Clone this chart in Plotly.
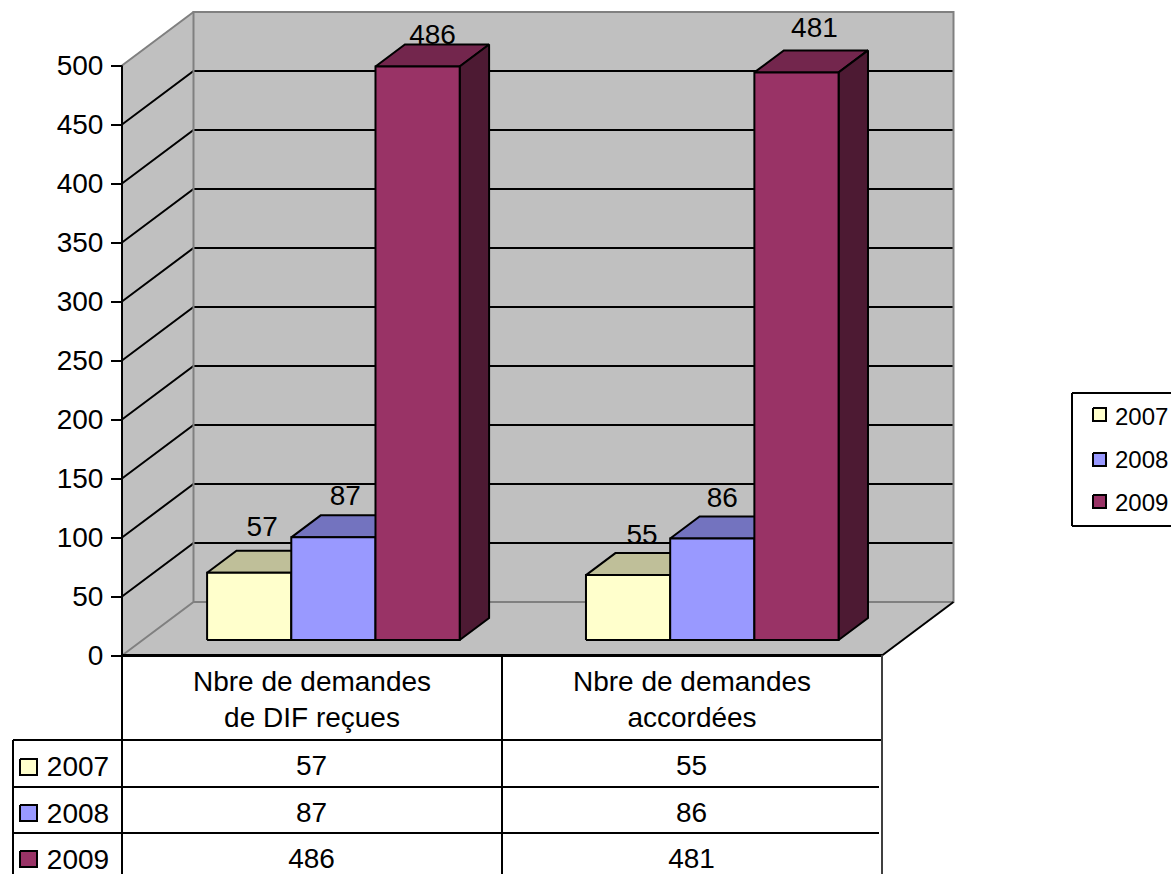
import plotly.graph_objects as go

categories = ["Nbre de demandes<br>de DIF reçues", "Nbre de demandes<br>accordées"]
series_names = ["2007", "2008", "2009"]
values_2007 = [57, 55]
values_2008 = [87, 86]
values_2009 = [486, 481]
y_ticks = [0, 50, 100, 150, 200, 250, 300, 350, 400, 450, 500]

all_values = [values_2007, values_2008, values_2009]
front = ["#FFFFCC", "#9999FF", "#993366"]
top = ["#BFBF99", "#7373BF", "#73264D"]
side = ["#BFBF99", "#7373BF", "#4D1A33"]

W, H = 1171, 874
X0, CAT_W = 122, 380
Y0, PX_PER_UNIT = 655.5, 1.18
DEPTH_X, DEPTH_Y = 71.5, 53.5
FONT = "Liberation Sans"
FS = 28
LEGEND_FS = 24
TEXT_SHIFT = 3
GREY = "#808080"
WALL = "#C0C0C0"


def vx(px):
    return (px - X0) / CAT_W


def vy(px):
    return (Y0 - px) / PX_PER_UNIT


def P(x, v, d=0.0):
    """Oblique projection: category x, value v, depth d in 0..1."""
    return x + d * DEPTH_X / CAT_W, v + d * DEPTH_Y / PX_PER_UNIT


fig = go.Figure()


def poly(points, fill=None, color="black", width=2):
    xs = [p[0] for p in points]
    ys = [p[1] for p in points]
    fig.add_trace(go.Scatter(
        x=xs, y=ys, mode="lines", hoverinfo="skip", showlegend=False,
        fill="toself" if fill else None, fillcolor=fill,
        line=dict(color=color, width=width, shape="linear"),
    ))


def pixel_line(p1, p2, color="black", width=2):
    poly([(vx(p1[0]), vy(p1[1])), (vx(p2[0]), vy(p2[1]))], color=color, width=width)


def label(px, py, text, anchor="middle center", size=FS):
    fig.add_trace(go.Scatter(
        x=[vx(px)], y=[vy(py + TEXT_SHIFT)], mode="text", text=[text], textposition=anchor,
        textfont=dict(family=FONT, size=size, color="black"),
        hoverinfo="skip", showlegend=False, cliponaxis=False,
    ))


# walls and floor
vmax = y_ticks[-1]
poly([P(0, 0), P(0, 0, 1), P(0, vmax, 1), P(0, vmax)], fill=WALL, color=WALL, width=1)
poly([P(0, 0, 1), P(2, 0, 1), P(2, vmax, 1), P(0, vmax, 1)], fill=WALL, color=WALL, width=1)
poly([P(0, 0), P(2, 0), P(2, 0, 1), P(0, 0, 1)], fill=WALL, color=WALL, width=1)

# gridlines
for t in y_ticks[1:-1]:
    poly([P(0, t), P(0, t, 1), P(2, t, 1)], width=2)

# wall edges
poly([P(0, 0), P(0, 0, 1), P(2, 0, 1), P(2, vmax, 1), P(0, vmax, 1), P(0, 0, 1)], color=GREY, width=2)
poly([P(0, vmax), P(0, vmax, 1)], color=GREY, width=2)
poly([P(2, 0, 1), P(2, 0)], width=2)
poly([P(0, 0), P(2, 0)], width=3)
poly([P(0, 0), P(0, vmax)], width=2)

# bars, painted left to right
BAR_W = 84.2 / CAT_W
GROUP_X = [0.1694, 1.1665]
D0, D1 = 15.5 / DEPTH_Y, 37.5 / DEPTH_Y
for g, gx in enumerate(GROUP_X):
    for s in range(3):
        v = all_values[s][g]
        a = gx + s * BAR_W
        b = a + BAR_W
        poly([P(a, v, D0), P(b, v, D0), P(b, v, D1), P(a, v, D1), P(a, v, D0)], fill=top[s])
        poly([P(b, 0, D0), P(b, 0, D1), P(b, v, D1), P(b, v, D0), P(b, 0, D0)], fill=side[s])
        poly([P(a, 0, D0), P(b, 0, D0), P(b, v, D0), P(a, v, D0), P(a, 0, D0)], fill=front[s])

# data labels: offset (px) from the centre of each bar's top edge
label_dx = [[13, 12, 15], [14, 10, 18]]
label_dy = [[-47, -42, -33], [-41, -42, -45]]
for g, gx in enumerate(GROUP_X):
    for s in range(3):
        v = all_values[s][g]
        cx, cy = P(gx + (s + 0.5) * BAR_W, v, D0)
        label(X0 + cx * CAT_W + label_dx[g][s], Y0 - cy * PX_PER_UNIT + label_dy[g][s], str(v))

# data table
ROWS = [740, 787, 833]
pixel_line((X0, 655), (X0, H), width=2)
pixel_line((502, 655), (502, H), width=2)
pixel_line((882, 655), (882, H), color="#404040", width=2)
pixel_line((13, 740), (13, H), width=2)
pixel_line((13, ROWS[0]), (881, ROWS[0]), width=2)
pixel_line((13, ROWS[1]), (879, ROWS[1]), width=2)
pixel_line((13, ROWS[2]), (879, ROWS[2]), width=2)
row_mid = [765, 812, 858]
swatch_top = [759, 805, 851]
for s in range(3):
    y = swatch_top[s]
    poly([(vx(20), vy(y)), (vx(37), vy(y)), (vx(37), vy(y + 16)), (vx(20), vy(y + 16)), (vx(20), vy(y))],
         fill=front[s], width=2)
    label(78, row_mid[s] + 1, series_names[s])
    for g in range(2):
        label(311.5 + 380 * g, row_mid[s], str(all_values[s][g]))

# legend
pixel_line((1072, 393), (W, 393))
pixel_line((1072, 526), (W, 526))
pixel_line((1072, 393), (1072, 526))
leg_top = [408, 453, 495]
leg_mid = [416, 459, 502]
for s in range(3):
    y = leg_top[s]
    poly([(vx(1093), vy(y)), (vx(1106), vy(y)), (vx(1106), vy(y + 13)), (vx(1093), vy(y + 13)), (vx(1093), vy(y))],
         fill=front[s], width=2)
    label(1115, leg_mid[s], series_names[s], anchor="middle right", size=LEGEND_FS)

fig.update_layout(
    width=W, height=H, margin=dict(l=0, r=0, t=0, b=0),
    paper_bgcolor="white", plot_bgcolor="white", showlegend=False,
    font=dict(family=FONT, size=FS, color="black"),
    xaxis=dict(
        range=[vx(0), vx(W)], anchor="free", position=(H - Y0) / H,
        tickmode="array", tickvals=[0.5, 1.5], ticktext=categories,
        showgrid=False, zeroline=False, showline=False, ticks="", ticklabelstandoff=6,
        tickfont=dict(family=FONT, size=FS, color="black"),
    ),
    yaxis=dict(
        range=[vy(H), vy(0)], anchor="free", position=X0 / W,
        tickmode="array", tickvals=y_ticks, ticktext=[str(t) for t in y_ticks],
        showgrid=False, zeroline=False, showline=False,
        ticks="outside", ticklen=11, tickwidth=2, tickcolor="black", ticklabelstandoff=2,
        tickfont=dict(family=FONT, size=FS, color="black"),
    ),
)
fig.write_html("out.html", config={"displayModeBar": False},
               post_script="document.body.style.margin='0';document.body.style.overflow='hidden';")
